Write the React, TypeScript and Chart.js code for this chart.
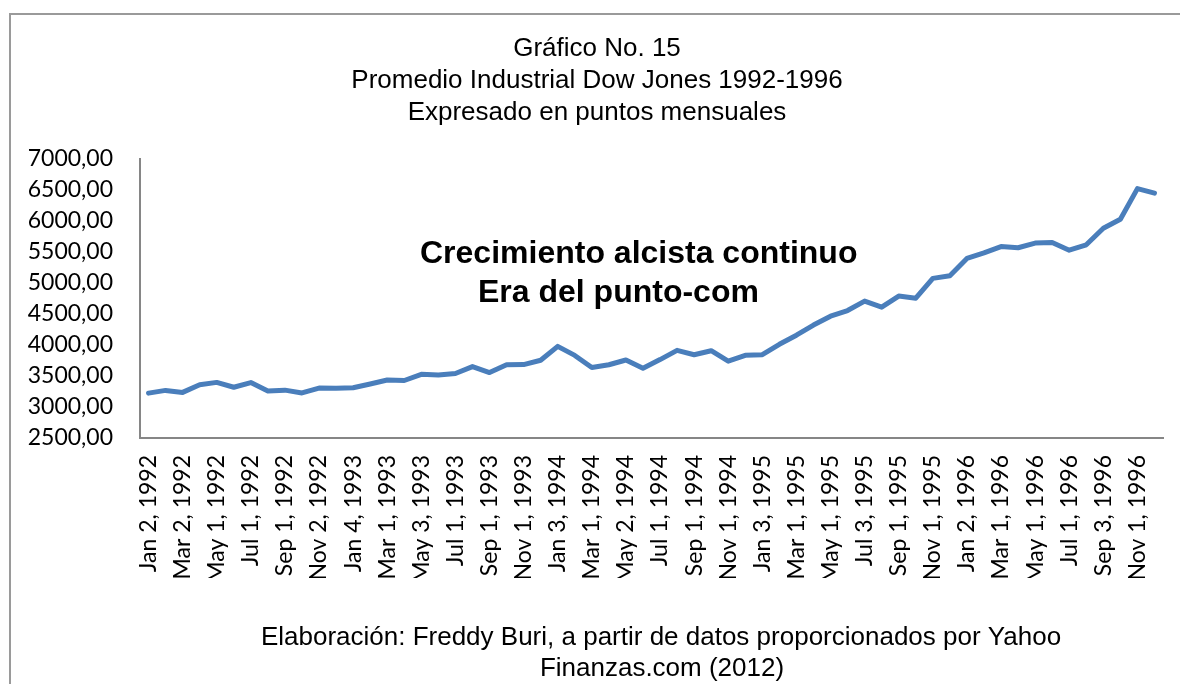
import React, { useEffect, useRef } from "react";
import { Chart, registerables } from "chart.js";

Chart.register(...registerables);

const dateLabels: string[] = [
  "Jan 2, 1992", "Feb 3, 1992", "Mar 2, 1992", "Apr 1, 1992", "May 1, 1992", "Jun 1, 1992",
  "Jul 1, 1992", "Aug 3, 1992", "Sep 1, 1992", "Oct 1, 1992", "Nov 2, 1992", "Dec 1, 1992",
  "Jan 4, 1993", "Feb 1, 1993", "Mar 1, 1993", "Apr 1, 1993", "May 3, 1993", "Jun 1, 1993",
  "Jul 1, 1993", "Aug 2, 1993", "Sep 1, 1993", "Oct 1, 1993", "Nov 1, 1993", "Dec 1, 1993",
  "Jan 3, 1994", "Feb 1, 1994", "Mar 1, 1994", "Apr 4, 1994", "May 2, 1994", "Jun 1, 1994",
  "Jul 1, 1994", "Aug 1, 1994", "Sep 1, 1994", "Oct 3, 1994", "Nov 1, 1994", "Dec 1, 1994",
  "Jan 3, 1995", "Feb 1, 1995", "Mar 1, 1995", "Apr 3, 1995", "May 1, 1995", "Jun 1, 1995",
  "Jul 3, 1995", "Aug 1, 1995", "Sep 1, 1995", "Oct 2, 1995", "Nov 1, 1995", "Dec 1, 1995",
  "Jan 2, 1996", "Feb 1, 1996", "Mar 1, 1996", "Apr 1, 1996", "May 1, 1996", "Jun 3, 1996",
  "Jul 1, 1996", "Aug 1, 1996", "Sep 3, 1996", "Oct 1, 1996", "Nov 1, 1996", "Dec 2, 1996",
];

const djiaPoints: number[] = [
  3223.4, 3267.7, 3235.5, 3359.1, 3396.9, 3318.5, 3393.8, 3257.4, 3271.7, 3226.3, 3305.2, 3301.1,
  3310.0, 3370.8, 3435.1, 3427.6, 3527.4, 3516.1, 3539.5, 3651.2, 3555.1, 3680.6, 3683.9, 3754.1,
  3978.4, 3832.0, 3636.0, 3681.7, 3758.4, 3625.0, 3764.5, 3913.4, 3843.2, 3908.1, 3739.2, 3834.4,
  3843.9, 4011.1, 4157.7, 4321.3, 4465.1, 4556.1, 4708.5, 4610.6, 4789.1, 4755.5, 5074.5, 5117.1,
  5395.3, 5485.6, 5587.1, 5569.1, 5643.2, 5654.6, 5528.9, 5616.2, 5882.2, 6029.4, 6521.7, 6448.3,
];

const titleLines: string[] = [
  "Gráfico No. 15",
  "Promedio Industrial Dow Jones 1992-1996",
  "Expresado en puntos mensuales",
];
const annotationLines: string[] = ["Crecimiento alcista continuo", "Era del punto-com"];
const footerLines: string[] = [
  "Elaboración: Freddy Buri, a partir de datos proporcionados por Yahoo",
  "Finanzas.com (2012)",
];

const Y_MIN = 2500;
const Y_MAX = 7000;
const Y_STEP = 500;

const decorPlugin = {
  id: "decor",
  beforeDraw(chart: any) {
    const ctx = chart.ctx;
    ctx.save();
    ctx.fillStyle = "#ffffff";
    ctx.fillRect(0, 0, chart.width, chart.height);
    ctx.strokeStyle = "#9a9a9a";
    ctx.lineWidth = 2;
    ctx.strokeRect(10, 14, 1300, 900);
    ctx.restore();
  },
  afterDraw(chart: any) {
    const ctx = chart.ctx;
    ctx.save();
    ctx.fillStyle = "#000000";
    ctx.textBaseline = "alphabetic";
    // title
    ctx.font = "26px 'Liberation Sans', Arial, sans-serif";
    ctx.textAlign = "center";
    titleLines.forEach((t, i) => ctx.fillText(t, 597, 56 + i * 32));
    // annotation
    ctx.font = "bold 32px 'Liberation Sans', Arial, sans-serif";
    ctx.textAlign = "left";
    ctx.fillText(annotationLines[0], 420, 263);
    ctx.fillText(annotationLines[1], 478, 302);
    // footer
    ctx.font = "26px 'Liberation Sans', Arial, sans-serif";
    ctx.textAlign = "center";
    ctx.fillText(footerLines[0], 661, 645);
    ctx.fillText(footerLines[1], 662, 676);
    ctx.restore();
  },
};

export default function App() {
  const canvasRef = useRef<HTMLCanvasElement | null>(null);

  useEffect(() => {
    if (!canvasRef.current) return;
    const chart = new Chart(canvasRef.current, {
      type: "line",
      data: {
        labels: dateLabels,
        datasets: [
          {
            data: djiaPoints,
            borderColor: "#4a7ebb",
            borderWidth: 5,
            pointRadius: 0,
            tension: 0,
            borderJoinStyle: "round",
            borderCapStyle: "round",
            fill: false,
          },
        ],
      },
      options: {
        animation: false,
        responsive: false,
        devicePixelRatio: 1,
        layout: { padding: { left: 0, top: 159, right: 17, bottom: 106 } },
        plugins: {
          legend: { display: false },
          tooltip: { enabled: false },
          title: { display: false },
        },
        scales: {
          x: {
            type: "category",
            offset: true,
            grid: { display: false, drawTicks: false },
            border: { display: true, color: "#868686", width: 2 },
            ticks: {
              autoSkip: false,
              maxRotation: 90,
              minRotation: 90,
              padding: 17,
              color: "#000000",
              font: { family: "Lato, 'Open Sans', sans-serif", size: 23 },
              callback: (_v: any, i: number) => (i % 2 === 0 ? dateLabels[i] : ""),
            },
            afterFit: (s: any) => {
              s.height = 140;
              s.paddingLeft = 0;
              s.paddingRight = 0;
            },
          },
          y: {
            min: Y_MIN,
            max: Y_MAX,
            grid: { display: false, drawTicks: false },
            border: { display: true, color: "#868686", width: 2 },
            ticks: {
              stepSize: Y_STEP,
              padding: 27,
              color: "#000000",
              font: { family: "Lato, 'Open Sans', sans-serif", size: 23 },
              callback: (v: any) => Number(v).toFixed(2).replace(".", ","),
            },
            afterFit: (s: any) => {
              s.width = 140;
              s.paddingTop = 0;
              s.paddingBottom = 0;
            },
          },
        },
      },
      plugins: [decorPlugin],
    });
    return () => chart.destroy();
  }, []);

  return (
    <div style={{ position: "fixed", left: 0, top: 0, width: 1180, height: 684, background: "#fff" }}>
      <canvas ref={canvasRef} width={1180} height={684} style={{ display: "block" }} />
    </div>
  );
}
